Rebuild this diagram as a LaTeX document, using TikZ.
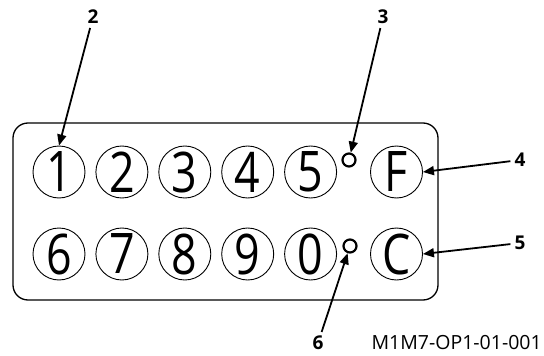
\documentclass[tikz,border=0pt]{standalone}
\usepackage{fontspec}
\setmainfont{Open Sans}
\newfontfamily\keyfont[FakeStretch=0.8]{Open Sans}
\usetikzlibrary{arrows.meta}
\usetikzlibrary{positioning}
\begin{document}
\begin{tikzpicture}[
  x=1pt, y=-1pt,
  key/.style={circle, draw, line width=0.9pt, minimum size=52pt, inner sep=0pt, font=\keyfont\fontsize{56}{56}\selectfont},
  lamp/.style={circle, draw, line width=2.2pt, minimum size=13pt, inner sep=0pt},
  callout/.style={font=\bfseries\fontsize{19}{19}\selectfont, inner sep=1pt},
  pointer/.style={line width=1.8pt, shorten <=3pt, -{Triangle[length=11pt,width=9pt]}},
  node distance=10pt
]
\useasboundingbox (0,0) rectangle (544,356);
\draw[line width=1.3pt, rounded corners=15pt] (13,123) rectangle (438,300);
\node[key] (key1) at (59,172) {1};
\node[key, right=of key1] (key2) {2};
\node[key, right=of key2] (key3) {3};
\node[key, right=of key3] (key4) {4};
\node[key, right=of key4] (key5) {5};
\node[key, right=33pt of key5] (keyF) {F};
\node[key] (key6) at (59,254) {6};
\node[key, right=of key6] (key7) {7};
\node[key, right=of key7] (key8) {8};
\node[key, right=of key8] (key9) {9};
\node[key, right=of key9] (key0) {0};
\node[key, right=33pt of key0] (keyC) {C};
\node[lamp] (lampF) at (349,160) {};
\node[lamp] (lampC) at (350,246) {};
\node[callout] (lbl2) at (93,17) {2};
\node[callout] (lbl3) at (383,17) {3};
\node[callout] (lbl4) at (520,160) {4};
\node[callout] (lbl5) at (520,243) {5};
\node[callout] (lbl6) at (318,343) {6};
\node[font=\fontsize{19.5}{19.5}\selectfont, anchor=west] (figid) at (368,343) {M1M7-OP1-01-001};
\draw[pointer] (lbl2) -- (key1.north);
\draw[pointer] (lbl3) -- (lampF);
\draw[pointer] (lbl4) -- (keyF.east);
\draw[pointer] (lbl5) -- (keyC.east);
\draw[pointer] (lbl6) -- (lampC);
\end{tikzpicture}
\end{document}
